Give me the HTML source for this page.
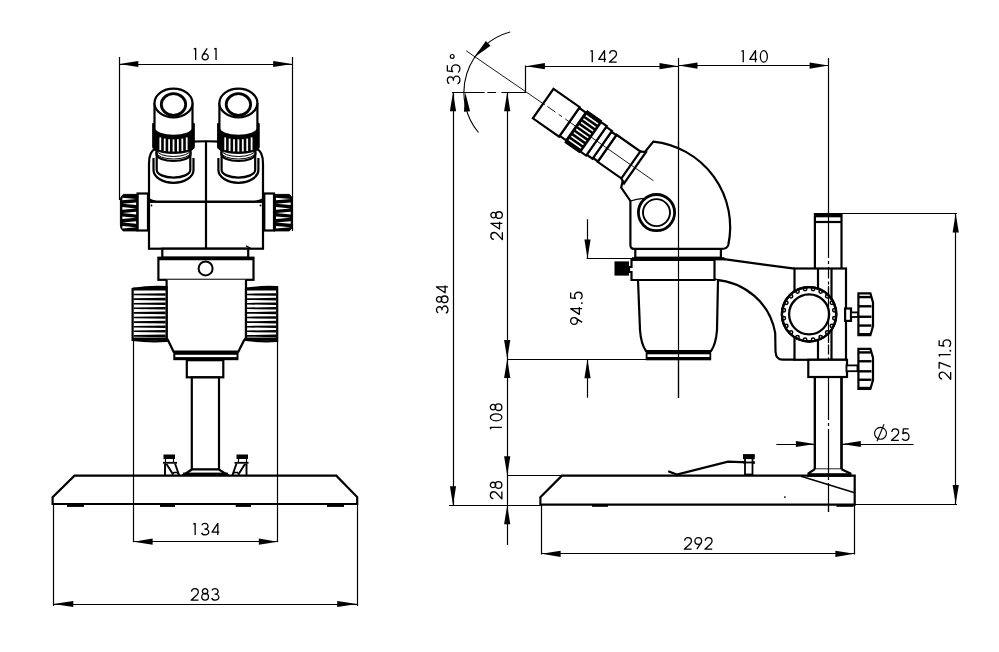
<!DOCTYPE html>
<html><head><meta charset="utf-8"><style>
html,body{margin:0;padding:0;background:#fff;}
svg{display:block;}
text{font-family:"Liberation Sans",sans-serif;fill:#111;stroke:none;}
</style></head><body>
<svg width="999" height="652" viewBox="0 0 999 652" stroke="#000" stroke-linecap="butt" stroke-linejoin="miter">
<rect x="0" y="0" width="999" height="652" fill="#fff" stroke="none"/>
<line x1="119.3" y1="64.5" x2="292.2" y2="64.5" stroke-width="1.2" />
<path d="M119.3,64 L138.3,60.9 L138.3,67.1 Z" fill="#000" stroke="none"/>
<path d="M292.2,64 L273.2,67.1 L273.2,60.9 Z" fill="#000" stroke="none"/>
<g transform="translate(204.90,60.60) scale(1.0) translate(-11.80,0)" fill="none" stroke="#000" stroke-linejoin="round" stroke-width="1.30"><path transform="translate(0.00,0)" d="M0.65,-11.55 L2.55,-12.15 V-0.65"/><path transform="translate(8.40,0)" d="M5.7,-12.15 L1.0,-5.2 M0.65,-3.7 A3.05,3.05 0 1 0 6.75,-3.7 A3.05,3.05 0 1 0 0.65,-3.7"/><path transform="translate(20.40,0)" d="M0.65,-11.55 L2.55,-12.15 V-0.65"/></g>
<path d="M149,201.8 V164 Q149,151 155.5,149 L190,141.7 Q206,140.8 222,141.7 L256.5,149 Q263,151 263,164 V201.8" stroke-width="2.2" fill="none" />
<rect x="149" y="201.8" width="114" height="46.9" rx="0" stroke-width="2.2" fill="#fff" />
<rect x="150.2" y="198.5" width="111.6" height="2.5" rx="0" stroke-width="0" fill="#fff" stroke="none"/>
<path d="M149,199 Q152,201.5 160,201.6 H252 Q260,201.5 263,199" stroke-width="2.2" fill="none" />
<line x1="206" y1="141.7" x2="206" y2="248.7" stroke-width="2.2" />
<line x1="246" y1="245.9" x2="250.3" y2="248" stroke-width="1.2" />
<circle cx="151.5" cy="205.5" r="0.9" fill="#000" stroke="none"/>
<circle cx="260.5" cy="205.5" r="0.9" fill="#000" stroke="none"/>
<path d="M153.5,158 V170 A20,12.8 0 0 0 193.5,170 V158" stroke-width="2.2" fill="none" />
<path d="M156.7,152 V170 A16.8,7.6 0 0 0 190.3,170 V152" stroke-width="2.2" fill="#fff" />
<path d="M156.5,148 V154 A17,7 0 0 0 190.5,154 V148" stroke-width="2.2" fill="#fff" />
<path d="M156.5,150 A17,6.5 0 0 0 190.5,150" stroke-width="1.0" fill="none" />
<path d="M156.5,152.5 A17,6.5 0 0 0 190.5,152.5" stroke-width="1.0" fill="none" />
<path d="M152.7,123.5 V147 A20.8,6.5 0 0 0 194.3,147 V123.5 Z" stroke-width="1" fill="#000" />
<rect x="159.4" y="137.43" width="1.8" height="12.69" fill="#fff" stroke="none"/>
<rect x="163.8" y="138.6" width="1.8" height="12.39" fill="#fff" stroke="none"/>
<rect x="168.2" y="139.21" width="1.8" height="12.24" fill="#fff" stroke="none"/>
<rect x="172.6" y="139.4" width="1.8" height="12.2" fill="#fff" stroke="none"/>
<rect x="177" y="139.21" width="1.8" height="12.24" fill="#fff" stroke="none"/>
<rect x="181.4" y="138.6" width="1.8" height="12.39" fill="#fff" stroke="none"/>
<rect x="185.8" y="137.43" width="1.8" height="12.69" fill="#fff" stroke="none"/>
<path d="M154.5,103 V128.8 A19,7 0 0 0 192.5,128.8 V103" stroke-width="2.2" fill="#fff" />
<ellipse cx="173.5" cy="103" rx="19" ry="14.4" stroke-width="2.2" fill="#fff"/>
<ellipse cx="173.5" cy="104.5" rx="12.2" ry="10.8" stroke-width="2.8" fill="#fff"/>
<path d="M218.4,158 V170 A20,12.8 0 0 0 258.4,170 V158" stroke-width="2.2" fill="none" />
<path d="M221.6,152 V170 A16.8,7.6 0 0 0 255.2,170 V152" stroke-width="2.2" fill="#fff" />
<path d="M221.4,148 V154 A17,7 0 0 0 255.4,154 V148" stroke-width="2.2" fill="#fff" />
<path d="M221.4,150 A17,6.5 0 0 0 255.4,150" stroke-width="1.0" fill="none" />
<path d="M221.4,152.5 A17,6.5 0 0 0 255.4,152.5" stroke-width="1.0" fill="none" />
<path d="M217.6,123.5 V147 A20.8,6.5 0 0 0 259.2,147 V123.5 Z" stroke-width="1" fill="#000" />
<rect x="224.3" y="137.43" width="1.8" height="12.69" fill="#fff" stroke="none"/>
<rect x="228.7" y="138.6" width="1.8" height="12.39" fill="#fff" stroke="none"/>
<rect x="233.1" y="139.21" width="1.8" height="12.24" fill="#fff" stroke="none"/>
<rect x="237.5" y="139.4" width="1.8" height="12.2" fill="#fff" stroke="none"/>
<rect x="241.9" y="139.21" width="1.8" height="12.24" fill="#fff" stroke="none"/>
<rect x="246.3" y="138.6" width="1.8" height="12.39" fill="#fff" stroke="none"/>
<rect x="250.7" y="137.43" width="1.8" height="12.69" fill="#fff" stroke="none"/>
<path d="M219.4,103 V128.8 A19,7 0 0 0 257.4,128.8 V103" stroke-width="2.2" fill="#fff" />
<ellipse cx="238.4" cy="103" rx="19" ry="14.4" stroke-width="2.2" fill="#fff"/>
<ellipse cx="238.4" cy="104.5" rx="12.2" ry="10.8" stroke-width="2.8" fill="#fff"/>
<rect x="137.6" y="193.5" width="10.4" height="37" rx="0" stroke-width="2.2" fill="#fff" />
<path d="M137.6,194.4 H123.4 Q120.4,196 120.4,200 V225 Q120.4,229.5 123.4,230.9 H137.6 Z" stroke-width="1" fill="#000" />
<path d="M122.4,197.7 L136.1,199 L122.4,200.3 Z" fill="#fff" stroke="none"/>
<path d="M136.1,202.4 L122.4,203.7 L136.1,205 Z" fill="#fff" stroke="none"/>
<path d="M122.4,207.1 L136.1,208.4 L122.4,209.7 Z" fill="#fff" stroke="none"/>
<path d="M136.1,211.8 L122.4,213.1 L136.1,214.4 Z" fill="#fff" stroke="none"/>
<path d="M122.4,216.5 L136.1,217.8 L122.4,219.1 Z" fill="#fff" stroke="none"/>
<path d="M136.1,221.2 L122.4,222.5 L136.1,223.8 Z" fill="#fff" stroke="none"/>
<path d="M122.4,225.9 L136.1,227.2 L122.4,228.5 Z" fill="#fff" stroke="none"/>
<rect x="264.3" y="193.5" width="9.7" height="37" rx="0" stroke-width="2.2" fill="#fff" />
<path d="M274,194.4 H289.2 Q292.2,196 292.2,200 V225 Q292.2,229.5 289.2,230.9 H274 Z" stroke-width="1" fill="#000" />
<path d="M276,197.7 L290.7,199 L276,200.3 Z" fill="#fff" stroke="none"/>
<path d="M290.7,202.4 L276,203.7 L290.7,205 Z" fill="#fff" stroke="none"/>
<path d="M276,207.1 L290.7,208.4 L276,209.7 Z" fill="#fff" stroke="none"/>
<path d="M290.7,211.8 L276,213.1 L290.7,214.4 Z" fill="#fff" stroke="none"/>
<path d="M276,216.5 L290.7,217.8 L276,219.1 Z" fill="#fff" stroke="none"/>
<path d="M290.7,221.2 L276,222.5 L290.7,223.8 Z" fill="#fff" stroke="none"/>
<path d="M276,225.9 L290.7,227.2 L276,228.5 Z" fill="#fff" stroke="none"/>
<line x1="119.5" y1="57" x2="119.5" y2="200" stroke-width="1.2" />
<line x1="292.5" y1="57" x2="292.5" y2="231" stroke-width="1.2" />
<rect x="162.3" y="248.7" width="85.9" height="9" rx="0" stroke-width="2.2" fill="#fff" />
<rect x="158.4" y="257.7" width="95.1" height="22.1" rx="0" stroke-width="2.2" fill="#fff" />
<line x1="158.4" y1="258.8" x2="253.5" y2="258.8" stroke-width="3" />
<circle cx="205.6" cy="268.4" r="7" stroke-width="2" fill="#fff"/>
<path d="M166.6,279.8 V338 L168.1,340.4 L173.5,351.6 H238.4 L244,340.4 L246,338 V279.8" stroke-width="2.2" fill="#fff" />
<rect x="173.3" y="351.2" width="65.2" height="9" rx="0" stroke-width="0" fill="#000" stroke="none"/>
<rect x="175.3" y="354.8" width="61.2" height="2.3" rx="0" stroke-width="0" fill="#fff" stroke="none"/>
<path d="M132.6,289 Q149.6,286.2 166.6,287.2 V340.9 Q149.6,342 132.6,340 Z" stroke-width="2.2" fill="#fff" />
<rect x="132.6" y="287.5" width="34" height="3" rx="0" stroke-width="0" fill="#000" stroke="none"/>
<rect x="132.6" y="337.5" width="34" height="3" rx="0" stroke-width="0" fill="#000" stroke="none"/>
<path d="M133.6,293.7 L165.6,293.2 L165.6,295.8 L133.6,295.3 Z" fill="#000" stroke="none"/>
<path d="M133.6,298.3 L165.6,297.8 L165.6,300.4 L133.6,299.9 Z" fill="#000" stroke="none"/>
<path d="M133.6,302.9 L165.6,302.4 L165.6,305 L133.6,304.5 Z" fill="#000" stroke="none"/>
<path d="M133.6,307.5 L165.6,307 L165.6,309.6 L133.6,309.1 Z" fill="#000" stroke="none"/>
<path d="M133.6,312.1 L165.6,311.6 L165.6,314.2 L133.6,313.7 Z" fill="#000" stroke="none"/>
<path d="M133.6,316.7 L165.6,316.2 L165.6,318.8 L133.6,318.3 Z" fill="#000" stroke="none"/>
<path d="M133.6,321.3 L165.6,320.8 L165.6,323.4 L133.6,322.9 Z" fill="#000" stroke="none"/>
<path d="M133.6,325.9 L165.6,325.4 L165.6,328 L133.6,327.5 Z" fill="#000" stroke="none"/>
<path d="M133.6,330.5 L165.6,330 L165.6,332.6 L133.6,332.1 Z" fill="#000" stroke="none"/>
<path d="M133.6,335.1 L165.6,334.6 L165.6,337.2 L133.6,336.7 Z" fill="#000" stroke="none"/>
<path d="M246,289 Q261.6,286.2 277.2,287.2 V340.9 Q261.6,342 246,340 Z" stroke-width="2.2" fill="#fff" />
<rect x="246" y="287.5" width="31.2" height="3" rx="0" stroke-width="0" fill="#000" stroke="none"/>
<rect x="246" y="337.5" width="31.2" height="3" rx="0" stroke-width="0" fill="#000" stroke="none"/>
<path d="M247,293.7 L276.2,293.2 L276.2,295.8 L247,295.3 Z" fill="#000" stroke="none"/>
<path d="M247,298.3 L276.2,297.8 L276.2,300.4 L247,299.9 Z" fill="#000" stroke="none"/>
<path d="M247,302.9 L276.2,302.4 L276.2,305 L247,304.5 Z" fill="#000" stroke="none"/>
<path d="M247,307.5 L276.2,307 L276.2,309.6 L247,309.1 Z" fill="#000" stroke="none"/>
<path d="M247,312.1 L276.2,311.6 L276.2,314.2 L247,313.7 Z" fill="#000" stroke="none"/>
<path d="M247,316.7 L276.2,316.2 L276.2,318.8 L247,318.3 Z" fill="#000" stroke="none"/>
<path d="M247,321.3 L276.2,320.8 L276.2,323.4 L247,322.9 Z" fill="#000" stroke="none"/>
<path d="M247,325.9 L276.2,325.4 L276.2,328 L247,327.5 Z" fill="#000" stroke="none"/>
<path d="M247,330.5 L276.2,330 L276.2,332.6 L247,332.1 Z" fill="#000" stroke="none"/>
<path d="M247,335.1 L276.2,334.6 L276.2,337.2 L247,336.7 Z" fill="#000" stroke="none"/>
<rect x="186.8" y="360.2" width="36.5" height="17.1" rx="0" stroke-width="2.2" fill="#fff" />
<rect x="191.8" y="377.4" width="27.2" height="92.1" rx="0" stroke-width="2.2" fill="#fff" />
<path d="M191.8,469.5 L183.5,475 H227.5 L219,469.5 Z" stroke-width="2.2" fill="#fff" />
<rect x="183" y="472.6" width="45" height="3.2" rx="0" stroke-width="0" fill="#000" stroke="none"/>
<rect x="163.5" y="454.5" width="11.5" height="4.5" rx="0" stroke-width="0" fill="#000" stroke="none"/>
<line x1="165.5" y1="459" x2="165.5" y2="462" stroke-width="1.2" />
<line x1="173.5" y1="459" x2="173.5" y2="462" stroke-width="1.2" />
<line x1="163" y1="462.8" x2="177" y2="462.8" stroke-width="1.8" />
<path d="M165,463.5 V475 M175,463.5 L179,475 M166.5,464 L172.5,473.5" stroke-width="1.9" fill="none" />
<path d="M172,475 L174,472.5 H177.5 L179,475" stroke-width="1.6" fill="none" />
<rect x="236.5" y="454.5" width="11.5" height="4.5" rx="0" stroke-width="0" fill="#000" stroke="none"/>
<line x1="246.5" y1="459" x2="246.5" y2="462" stroke-width="1.2" />
<line x1="238.5" y1="459" x2="238.5" y2="462" stroke-width="1.2" />
<line x1="248.5" y1="462.8" x2="234.5" y2="462.8" stroke-width="1.8" />
<path d="M246.5,463.5 V475 M236.5,463.5 L232.5,475 M245,464 L239,473.5" stroke-width="1.9" fill="none" />
<path d="M239.5,475 L237.5,472.5 H234 L232.5,475" stroke-width="1.6" fill="none" />
<path d="M74.5,475.7 H336.3 L357.2,497.1 V504 H52.6 V497.1 Z" stroke-width="2.2" fill="#fff" />
<rect x="67" y="504.3" width="17" height="2.6" rx="0" stroke-width="0" fill="#000" stroke="none"/>
<rect x="160" y="504.3" width="15" height="2.6" rx="0" stroke-width="0" fill="#000" stroke="none"/>
<rect x="235.7" y="504.3" width="15.3" height="2.6" rx="0" stroke-width="0" fill="#000" stroke="none"/>
<rect x="327" y="504.3" width="17" height="2.6" rx="0" stroke-width="0" fill="#000" stroke="none"/>
<line x1="133.5" y1="341" x2="133.5" y2="542.2" stroke-width="1.2" />
<line x1="277.5" y1="341" x2="277.5" y2="542.2" stroke-width="1.2" />
<line x1="133.6" y1="541.5" x2="277.8" y2="541.5" stroke-width="1.2" />
<path d="M133.6,541.7 L152.6,538.6 L152.6,544.8 Z" fill="#000" stroke="none"/>
<path d="M277.8,541.7 L258.8,544.8 L258.8,538.6 Z" fill="#000" stroke="none"/>
<g transform="translate(206.30,535.60) scale(1.0) translate(-13.70,0)" fill="none" stroke="#000" stroke-linejoin="round" stroke-width="1.30"><path transform="translate(0.00,0)" d="M0.65,-11.55 L2.55,-12.15 V-0.65"/><path transform="translate(8.40,0)" d="M0.85,-10.4 C1.4,-11.5 2.6,-12.15 3.95,-12.15 C5.7,-12.15 7.0,-10.9 7.0,-9.3 C7.0,-7.7 5.7,-6.6 4.0,-6.6 C6.2,-6.6 7.75,-5.1 7.75,-3.6 C7.75,-1.9 6.2,-0.65 4.1,-0.65 C2.4,-0.65 1.05,-1.5 0.65,-2.8"/><path transform="translate(18.80,0)" d="M6.4,-0.65 V-12.15 L0.65,-3.5 H7.95"/></g>
<line x1="53.5" y1="504" x2="53.5" y2="606" stroke-width="1.2" />
<line x1="357.5" y1="504" x2="357.5" y2="606" stroke-width="1.2" />
<line x1="53.3" y1="604.5" x2="357.2" y2="604.5" stroke-width="1.2" />
<path d="M53.3,604 L73.3,600.9 L73.3,607.1 Z" fill="#000" stroke="none"/>
<path d="M357.2,604 L337.2,607.1 L337.2,600.9 Z" fill="#000" stroke="none"/>
<g transform="translate(205.00,600.80) scale(1.0) translate(-14.50,0)" fill="none" stroke="#000" stroke-linejoin="round" stroke-width="1.30"><path transform="translate(0.00,0)" d="M0.9,-9.2 C1.2,-11.1 2.7,-12.15 4.35,-12.15 C6.3,-12.15 7.8,-10.7 7.8,-8.8 C7.8,-7.6 7.2,-6.6 6.3,-5.8 L0.65,-0.65 H7.95"/><path transform="translate(10.60,0)" d="M1.3,-9.45 A2.7,2.7 0 1 0 6.7,-9.45 A2.7,2.7 0 1 0 1.3,-9.45 M0.65,-4.0 A3.35,3.35 0 1 0 7.35,-4.0 A3.35,3.35 0 1 0 0.65,-4.0"/><path transform="translate(20.60,0)" d="M0.85,-10.4 C1.4,-11.5 2.6,-12.15 3.95,-12.15 C5.7,-12.15 7.0,-10.9 7.0,-9.3 C7.0,-7.7 5.7,-6.6 4.0,-6.6 C6.2,-6.6 7.75,-5.1 7.75,-3.6 C7.75,-1.9 6.2,-0.65 4.1,-0.65 C2.4,-0.65 1.05,-1.5 0.65,-2.8"/></g>
<line x1="525.5" y1="65.5" x2="525.5" y2="92.5" stroke-width="1.2" />
<line x1="525.9" y1="66.5" x2="678.5" y2="66.5" stroke-width="1.2" />
<path d="M525.9,66.2 L544.9,63.1 L544.9,69.3 Z" fill="#000" stroke="none"/>
<path d="M678.5,66.2 L659.5,69.3 L659.5,63.1 Z" fill="#000" stroke="none"/>
<g transform="translate(603.50,62.80) scale(1.0) translate(-13.80,0)" fill="none" stroke="#000" stroke-linejoin="round" stroke-width="1.30"><path transform="translate(0.00,0)" d="M0.65,-11.55 L2.55,-12.15 V-0.65"/><path transform="translate(8.40,0)" d="M6.4,-0.65 V-12.15 L0.65,-3.5 H7.95"/><path transform="translate(19.00,0)" d="M0.9,-9.2 C1.2,-11.1 2.7,-12.15 4.35,-12.15 C6.3,-12.15 7.8,-10.7 7.8,-8.8 C7.8,-7.6 7.2,-6.6 6.3,-5.8 L0.65,-0.65 H7.95"/></g>
<line x1="678.5" y1="65.5" x2="828.6" y2="65.5" stroke-width="1.2" />
<path d="M678.5,65.6 L697.5,62.5 L697.5,68.7 Z" fill="#000" stroke="none"/>
<path d="M828.6,65.6 L809.6,68.7 L809.6,62.5 Z" fill="#000" stroke="none"/>
<g transform="translate(754.35,62.80) scale(1.0) translate(-13.65,0)" fill="none" stroke="#000" stroke-linejoin="round" stroke-width="1.30"><path transform="translate(0.00,0)" d="M0.65,-11.55 L2.55,-12.15 V-0.65"/><path transform="translate(8.40,0)" d="M6.4,-0.65 V-12.15 L0.65,-3.5 H7.95"/><path transform="translate(19.00,0)" d="M0.65,-6.4 A3.5,5.75 0 1 0 7.65,-6.4 A3.5,5.75 0 1 0 0.65,-6.4"/></g>
<line x1="678.5" y1="58" x2="678.5" y2="398" stroke-width="1.2" />
<line x1="828.5" y1="58" x2="828.5" y2="512" stroke-width="1.2" />
<line x1="452" y1="92.5" x2="526" y2="92.5" stroke-width="1.2" stroke-dasharray="32.6,2.7,8.8,5.3,25"/>
<line x1="466.2" y1="50.8" x2="654" y2="179.8" stroke-width="0.9" />
<path d="M510.2,32 A62.5,62.5 0 0 0 478.5,132.5" stroke-width="1.1" fill="none" />
<path d="M474.1,57.6 L485.85,41.09 L490.54,45.74 Z" fill="#000" stroke="none"/>
<path d="M465.3,92.5 L470.09,111.15 L463.91,111.7 Z" fill="#000" stroke="none"/>
<g transform="translate(460.60,74.35) rotate(-90) scale(1.09) translate(-9.30,0)" fill="none" stroke="#000" stroke-linejoin="round" stroke-width="1.19"><path transform="translate(0.00,0)" d="M0.85,-10.4 C1.4,-11.5 2.6,-12.15 3.95,-12.15 C5.7,-12.15 7.0,-10.9 7.0,-9.3 C7.0,-7.7 5.7,-6.6 4.0,-6.6 C6.2,-6.6 7.75,-5.1 7.75,-3.6 C7.75,-1.9 6.2,-0.65 4.1,-0.65 C2.4,-0.65 1.05,-1.5 0.65,-2.8"/><path transform="translate(10.40,0)" d="M7.2,-12.15 H2.0 L1.4,-7.3 C2.1,-7.9 3.0,-8.25 4.0,-8.25 C6.0,-8.25 7.55,-6.6 7.55,-4.45 C7.55,-2.2 5.9,-0.65 3.9,-0.65 C2.5,-0.65 1.3,-1.3 0.65,-2.4"/></g>
<circle cx="452.2" cy="56.4" r="1.9" stroke-width="1.2" fill="none"/>
<line x1="453.5" y1="92.2" x2="453.5" y2="505.3" stroke-width="1.2" />
<path d="M453,92.2 L456.1,111.2 L449.9,111.2 Z" fill="#000" stroke="none"/>
<path d="M453,505.3 L449.9,486.3 L456.1,486.3 Z" fill="#000" stroke="none"/>
<g transform="translate(448.60,299.25) rotate(-90) scale(1.0) translate(-14.50,0)" fill="none" stroke="#000" stroke-linejoin="round" stroke-width="1.30"><path transform="translate(0.00,0)" d="M0.85,-10.4 C1.4,-11.5 2.6,-12.15 3.95,-12.15 C5.7,-12.15 7.0,-10.9 7.0,-9.3 C7.0,-7.7 5.7,-6.6 4.0,-6.6 C6.2,-6.6 7.75,-5.1 7.75,-3.6 C7.75,-1.9 6.2,-0.65 4.1,-0.65 C2.4,-0.65 1.05,-1.5 0.65,-2.8"/><path transform="translate(10.40,0)" d="M1.3,-9.45 A2.7,2.7 0 1 0 6.7,-9.45 A2.7,2.7 0 1 0 1.3,-9.45 M0.65,-4.0 A3.35,3.35 0 1 0 7.35,-4.0 A3.35,3.35 0 1 0 0.65,-4.0"/><path transform="translate(20.40,0)" d="M6.4,-0.65 V-12.15 L0.65,-3.5 H7.95"/></g>
<line x1="449" y1="505.5" x2="541" y2="505.5" stroke-width="1.2" />
<line x1="507.5" y1="92.2" x2="507.5" y2="359" stroke-width="1.2" />
<path d="M507.2,92.2 L510.3,111.2 L504.1,111.2 Z" fill="#000" stroke="none"/>
<path d="M507.2,359 L504.1,340 L510.3,340 Z" fill="#000" stroke="none"/>
<g transform="translate(503.00,225.70) rotate(-90) scale(1.0) translate(-14.60,0)" fill="none" stroke="#000" stroke-linejoin="round" stroke-width="1.30"><path transform="translate(0.00,0)" d="M0.9,-9.2 C1.2,-11.1 2.7,-12.15 4.35,-12.15 C6.3,-12.15 7.8,-10.7 7.8,-8.8 C7.8,-7.6 7.2,-6.6 6.3,-5.8 L0.65,-0.65 H7.95"/><path transform="translate(10.60,0)" d="M6.4,-0.65 V-12.15 L0.65,-3.5 H7.95"/><path transform="translate(21.20,0)" d="M1.3,-9.45 A2.7,2.7 0 1 0 6.7,-9.45 A2.7,2.7 0 1 0 1.3,-9.45 M0.65,-4.0 A3.35,3.35 0 1 0 7.35,-4.0 A3.35,3.35 0 1 0 0.65,-4.0"/></g>
<line x1="507" y1="359.5" x2="646" y2="359.5" stroke-width="1.2" />
<line x1="507.5" y1="359" x2="507.5" y2="505.3" stroke-width="1.2" />
<path d="M507.2,359 L510.3,378 L504.1,378 Z" fill="#000" stroke="none"/>
<path d="M507.2,475.3 L504.1,456.3 L510.3,456.3 Z" fill="#000" stroke="none"/>
<g transform="translate(502.50,416.50) rotate(-90) scale(1.0) translate(-13.35,0)" fill="none" stroke="#000" stroke-linejoin="round" stroke-width="1.30"><path transform="translate(0.00,0)" d="M0.65,-11.55 L2.55,-12.15 V-0.65"/><path transform="translate(8.40,0)" d="M0.65,-6.4 A3.5,5.75 0 1 0 7.65,-6.4 A3.5,5.75 0 1 0 0.65,-6.4"/><path transform="translate(18.70,0)" d="M1.3,-9.45 A2.7,2.7 0 1 0 6.7,-9.45 A2.7,2.7 0 1 0 1.3,-9.45 M0.65,-4.0 A3.35,3.35 0 1 0 7.35,-4.0 A3.35,3.35 0 1 0 0.65,-4.0"/></g>
<line x1="507" y1="475.5" x2="562" y2="475.5" stroke-width="1.2" />
<line x1="507.5" y1="505.3" x2="507.5" y2="545" stroke-width="1.2" />
<path d="M507.2,505.3 L510.3,524.3 L504.1,524.3 Z" fill="#000" stroke="none"/>
<g transform="translate(502.50,490.25) rotate(-90) scale(1.0) translate(-9.30,0)" fill="none" stroke="#000" stroke-linejoin="round" stroke-width="1.30"><path transform="translate(0.00,0)" d="M0.9,-9.2 C1.2,-11.1 2.7,-12.15 4.35,-12.15 C6.3,-12.15 7.8,-10.7 7.8,-8.8 C7.8,-7.6 7.2,-6.6 6.3,-5.8 L0.65,-0.65 H7.95"/><path transform="translate(10.60,0)" d="M1.3,-9.45 A2.7,2.7 0 1 0 6.7,-9.45 A2.7,2.7 0 1 0 1.3,-9.45 M0.65,-4.0 A3.35,3.35 0 1 0 7.35,-4.0 A3.35,3.35 0 1 0 0.65,-4.0"/></g>
<line x1="587.5" y1="219.2" x2="587.5" y2="258.6" stroke-width="1.2" />
<path d="M587.5,258.6 L584.4,239.6 L590.6,239.6 Z" fill="#000" stroke="none"/>
<line x1="587.5" y1="359.3" x2="587.5" y2="397.7" stroke-width="1.2" />
<path d="M587.5,359.3 L590.6,378.3 L584.4,378.3 Z" fill="#000" stroke="none"/>
<g transform="translate(582.80,308.30) rotate(-90) scale(1.0) translate(-16.70,0)" fill="none" stroke="#000" stroke-linejoin="round" stroke-width="1.30"><path transform="translate(0.00,0)" d="M0.65,-8.8 A3.35,3.35 0 1 0 7.35,-8.8 A3.35,3.35 0 1 0 0.65,-8.8 M7.1,-7.4 L2.6,-0.65"/><path transform="translate(10.00,0)" d="M6.4,-0.65 V-12.15 L0.65,-3.5 H7.95"/><circle cx="21.90" cy="-0.95" r="0.95" fill="#000" stroke="none"/><path transform="translate(25.20,0)" d="M7.2,-12.15 H2.0 L1.4,-7.3 C2.1,-7.9 3.0,-8.25 4.0,-8.25 C6.0,-8.25 7.55,-6.6 7.55,-4.45 C7.55,-2.2 5.9,-0.65 3.9,-0.65 C2.5,-0.65 1.3,-1.3 0.65,-2.4"/></g>
<line x1="586.6" y1="258.5" x2="632.6" y2="258.5" stroke-width="1.2" />
<line x1="841.5" y1="213.5" x2="957" y2="213.5" stroke-width="1.2" />
<line x1="855" y1="504.5" x2="957" y2="504.5" stroke-width="1.2" />
<line x1="955.5" y1="213.6" x2="955.5" y2="504" stroke-width="1.2" />
<path d="M955.7,213.6 L958.8,232.6 L952.6,232.6 Z" fill="#000" stroke="none"/>
<path d="M955.7,504 L952.6,485 L958.8,485 Z" fill="#000" stroke="none"/>
<g transform="translate(951.30,359.55) rotate(-90) scale(1.0) translate(-20.35,0)" fill="none" stroke="#000" stroke-linejoin="round" stroke-width="1.30"><path transform="translate(0.00,0)" d="M0.9,-9.2 C1.2,-11.1 2.7,-12.15 4.35,-12.15 C6.3,-12.15 7.8,-10.7 7.8,-8.8 C7.8,-7.6 7.2,-6.6 6.3,-5.8 L0.65,-0.65 H7.95"/><path transform="translate(10.60,0)" d="M0.65,-12.15 H6.85 L2.4,-0.65"/><path transform="translate(22.70,0)" d="M0.65,-11.55 L2.55,-12.15 V-0.65"/><circle cx="29.20" cy="-0.95" r="0.95" fill="#000" stroke="none"/><path transform="translate(32.50,0)" d="M7.2,-12.15 H2.0 L1.4,-7.3 C2.1,-7.9 3.0,-8.25 4.0,-8.25 C6.0,-8.25 7.55,-6.6 7.55,-4.45 C7.55,-2.2 5.9,-0.65 3.9,-0.65 C2.5,-0.65 1.3,-1.3 0.65,-2.4"/></g>
<line x1="541.5" y1="505" x2="541.5" y2="554.5" stroke-width="1.2" />
<line x1="854.5" y1="505" x2="854.5" y2="554.5" stroke-width="1.2" />
<line x1="541.6" y1="553.5" x2="854.4" y2="553.5" stroke-width="1.2" />
<path d="M541.6,553.8 L560.6,550.7 L560.6,556.9 Z" fill="#000" stroke="none"/>
<path d="M854.4,553.8 L835.4,556.9 L835.4,550.7 Z" fill="#000" stroke="none"/>
<g transform="translate(698.25,549.80) scale(1.0) translate(-14.60,0)" fill="none" stroke="#000" stroke-linejoin="round" stroke-width="1.30"><path transform="translate(0.00,0)" d="M0.9,-9.2 C1.2,-11.1 2.7,-12.15 4.35,-12.15 C6.3,-12.15 7.8,-10.7 7.8,-8.8 C7.8,-7.6 7.2,-6.6 6.3,-5.8 L0.65,-0.65 H7.95"/><path transform="translate(10.60,0)" d="M0.65,-8.8 A3.35,3.35 0 1 0 7.35,-8.8 A3.35,3.35 0 1 0 0.65,-8.8 M7.1,-7.4 L2.6,-0.65"/><path transform="translate(20.60,0)" d="M0.9,-9.2 C1.2,-11.1 2.7,-12.15 4.35,-12.15 C6.3,-12.15 7.8,-10.7 7.8,-8.8 C7.8,-7.6 7.2,-6.6 6.3,-5.8 L0.65,-0.65 H7.95"/></g>
<line x1="776.3" y1="444.5" x2="913.6" y2="444.5" stroke-width="1.2" />
<path d="M814.9,444 L795.9,447.1 L795.9,440.9 Z" fill="#000" stroke="none"/>
<path d="M841.8,444 L860.8,440.9 L860.8,447.1 Z" fill="#000" stroke="none"/>
<g transform="translate(900.25,441.00) scale(1.0) translate(-9.40,0)" fill="none" stroke="#000" stroke-linejoin="round" stroke-width="1.30"><path transform="translate(0.00,0)" d="M0.9,-9.2 C1.2,-11.1 2.7,-12.15 4.35,-12.15 C6.3,-12.15 7.8,-10.7 7.8,-8.8 C7.8,-7.6 7.2,-6.6 6.3,-5.8 L0.65,-0.65 H7.95"/><path transform="translate(10.60,0)" d="M7.2,-12.15 H2.0 L1.4,-7.3 C2.1,-7.9 3.0,-8.25 4.0,-8.25 C6.0,-8.25 7.55,-6.6 7.55,-4.45 C7.55,-2.2 5.9,-0.65 3.9,-0.65 C2.5,-0.65 1.3,-1.3 0.65,-2.4"/></g>
<circle cx="880.5" cy="433.3" r="5.95" stroke-width="1.1" fill="none"/>
<line x1="884" y1="424.3" x2="877" y2="441.3" stroke-width="1.1" />
<path d="M561.9,475.6 H854.7 V504.6 H540.4 V497.1 Z" stroke-width="2.2" fill="#fff" />
<line x1="801" y1="476.2" x2="854.7" y2="492.8" stroke-width="1.5" />
<rect x="592" y="504" width="16" height="2.8" rx="0" stroke-width="0" fill="#000" stroke="none"/>
<rect x="836.4" y="504" width="17.2" height="2.8" rx="0" stroke-width="0" fill="#000" stroke="none"/>
<circle cx="784.9" cy="497.1" r="0.9" fill="#000" stroke="none"/>
<path d="M668.2,471.3 L676.8,474.5 L728,461.6 L754.8,462.7" stroke-width="2.2" fill="none" />
<rect x="745" y="458" width="7.5" height="16.5" rx="0" stroke-width="1.8" fill="#fff" />
<rect x="743" y="454.1" width="11.8" height="5" rx="0" stroke-width="0" fill="#000" stroke="none"/>
<line x1="743" y1="462.5" x2="754.8" y2="462.5" stroke-width="1.8" />
<rect x="814.9" y="214.1" width="26.6" height="255.4" rx="0" stroke-width="2.2" fill="#fff" />
<rect x="814.9" y="214.1" width="26.6" height="3.2" rx="0" stroke-width="0" fill="#000" stroke="none"/>
<line x1="814.9" y1="222" x2="841.5" y2="222" stroke-width="2.2" />
<path d="M814.9,469.2 L808.5,473.4 V475.6 H850.4 V473.4 L841.5,469.2" stroke-width="2.2" fill="#fff" />
<rect x="808.5" y="473.2" width="41.9" height="2.6" rx="0" stroke-width="0" fill="#000" stroke="none"/>
<line x1="828.5" y1="213" x2="828.5" y2="512" stroke-width="1.2" stroke-dasharray="45,3,3,3"/>
<path d="M724,259.2 L794.5,268.6" stroke-width="2.2" fill="none" />
<path d="M714.7,279.6 C745,282 770,303 775.2,333 L775.5,351.5 Q776,359.7 782.5,359.7 H794.8" stroke-width="2.2" fill="none" />
<rect x="794.5" y="268.5" width="51.5" height="91.3" rx="0" stroke-width="2.2" fill="#fff" />
<line x1="818" y1="268.5" x2="818" y2="359.8" stroke-width="2.2" />
<line x1="831.5" y1="268.5" x2="831.5" y2="359.8" stroke-width="2.2" />
<line x1="828.5" y1="268.5" x2="828.5" y2="359.8" stroke-width="1.2" stroke-dasharray="10,3,3,3"/>
<rect x="808.3" y="359.8" width="38.7" height="17.2" rx="0" stroke-width="2.2" fill="#fff" />
<line x1="814.9" y1="377" x2="814.9" y2="469.2" stroke-width="2.2" />
<line x1="841.5" y1="377" x2="841.5" y2="469.2" stroke-width="2.2" />
<circle cx="809.1" cy="314.3" r="27.2" stroke-width="2.3" fill="#fff"/>
<circle cx="834.38" cy="318.3" r="1.7" stroke-width="1.5" fill="none"/>
<circle cx="831.91" cy="325.92" r="1.7" stroke-width="1.5" fill="none"/>
<circle cx="827.2" cy="332.4" r="1.7" stroke-width="1.5" fill="none"/>
<circle cx="820.72" cy="337.11" r="1.7" stroke-width="1.5" fill="none"/>
<circle cx="813.1" cy="339.58" r="1.7" stroke-width="1.5" fill="none"/>
<circle cx="805.1" cy="339.58" r="1.7" stroke-width="1.5" fill="none"/>
<circle cx="797.48" cy="337.11" r="1.7" stroke-width="1.5" fill="none"/>
<circle cx="791" cy="332.4" r="1.7" stroke-width="1.5" fill="none"/>
<circle cx="786.29" cy="325.92" r="1.7" stroke-width="1.5" fill="none"/>
<circle cx="783.82" cy="318.3" r="1.7" stroke-width="1.5" fill="none"/>
<circle cx="783.82" cy="310.3" r="1.7" stroke-width="1.5" fill="none"/>
<circle cx="786.29" cy="302.68" r="1.7" stroke-width="1.5" fill="none"/>
<circle cx="791" cy="296.2" r="1.7" stroke-width="1.5" fill="none"/>
<circle cx="797.48" cy="291.49" r="1.7" stroke-width="1.5" fill="none"/>
<circle cx="805.1" cy="289.02" r="1.7" stroke-width="1.5" fill="none"/>
<circle cx="813.1" cy="289.02" r="1.7" stroke-width="1.5" fill="none"/>
<circle cx="820.72" cy="291.49" r="1.7" stroke-width="1.5" fill="none"/>
<circle cx="827.2" cy="296.2" r="1.7" stroke-width="1.5" fill="none"/>
<circle cx="831.91" cy="302.68" r="1.7" stroke-width="1.5" fill="none"/>
<circle cx="834.38" cy="310.3" r="1.7" stroke-width="1.5" fill="none"/>
<circle cx="809.1" cy="314.3" r="27.2" stroke-width="2.3" fill="none"/>
<circle cx="809.1" cy="314.3" r="20" stroke-width="2.3" fill="#fff"/>
<line x1="828.5" y1="286" x2="828.5" y2="343" stroke-width="1.2" />
<rect x="845.1" y="308.5" width="5.9" height="12.4" rx="0" stroke-width="2.2" fill="#fff" />
<rect x="851" y="312.4" width="7.4" height="4.6" rx="0" stroke-width="1.8" fill="#fff" />
<path d="M858.4,293.3 H870.4 L873,302.52 V325.98 L870.4,335.2 H858.4 Z" stroke-width="2.2" fill="#fff" />
<line x1="858.4" y1="297.07" x2="871.5" y2="297.07" stroke-width="2.4" />
<line x1="858.4" y1="306.29" x2="871.5" y2="306.29" stroke-width="2.4" />
<line x1="858.4" y1="316.76" x2="871.5" y2="316.76" stroke-width="2.4" />
<line x1="858.4" y1="325.56" x2="871.5" y2="325.56" stroke-width="2.4" />
<rect x="858.4" y="333" width="12" height="2.2" rx="0" stroke-width="0" fill="#000" stroke="none"/>
<rect x="846.5" y="365.4" width="11" height="5.8" rx="0" stroke-width="1.8" fill="#fff" />
<path d="M858.4,348.8 H870.4 L873,357.64 V380.16 L870.4,389 H858.4 Z" stroke-width="2.2" fill="#fff" />
<line x1="858.4" y1="352.42" x2="871.5" y2="352.42" stroke-width="2.4" />
<line x1="858.4" y1="361.26" x2="871.5" y2="361.26" stroke-width="2.4" />
<line x1="858.4" y1="371.31" x2="871.5" y2="371.31" stroke-width="2.4" />
<line x1="858.4" y1="379.75" x2="871.5" y2="379.75" stroke-width="2.4" />
<rect x="858.4" y="386.8" width="12" height="2.2" rx="0" stroke-width="0" fill="#000" stroke="none"/>
<path d="M638,280 L640,330 Q641,344 646,351 H711 Q716,344 717,330 L718,280" stroke-width="2.2" fill="#fff" />
<rect x="645.7" y="351.2" width="65.5" height="9.1" rx="0" stroke-width="0" fill="#000" stroke="none"/>
<rect x="647.5" y="354.3" width="62" height="2.7" rx="0" stroke-width="0" fill="#fff" stroke="none"/>
<path d="M631.5,260 H714.5 V280 H631.5 V272 H629 V267 H631.5 Z" stroke-width="2.2" fill="#fff" />
<rect x="614.5" y="261.4" width="14.5" height="14.2" rx="0" stroke-width="0" fill="#000" stroke="none"/>
<rect x="632" y="257.2" width="92.5" height="3.2" rx="0" stroke-width="0" fill="#000" stroke="none"/>
<rect x="635.3" y="248.9" width="85.6" height="8.8" rx="0" stroke-width="2.2" fill="#fff" />
<path d="M630.4,245 V201 L621.2,187.5 L622.9,179.9 L644.9,152 L653.3,141.6 A86,86 0 0 1 728.3,245 Q727,248.9 722,248.9 H634 Q630.4,248.9 630.4,245 Z" stroke-width="2.2" fill="#fff" />
<circle cx="656.5" cy="212.6" r="18.1" stroke-width="2.8" fill="#fff"/>
<circle cx="656.5" cy="212.6" r="13.5" stroke-width="1.9" fill="#fff"/>
<path d="M630.5,201 Q636,199 643.6,198.3" stroke-width="1.2" fill="none" />
<line x1="678.5" y1="141" x2="678.5" y2="398" stroke-width="1.2" />
<path d="M616.56,134.77 L641.95,152.55 L623.03,179.58 L597.63,161.8 Z" stroke-width="2.2" fill="#fff" />
<path d="M640.32,151.4 L645.85,152.22 L624.05,183.35 L621.39,178.43 Z" stroke-width="2.2" fill="#fff" />
<path d="M611.36,131.74 L616.27,135.18 L597.92,161.39 L593,157.95 Z" stroke-width="2.2" fill="#fff" />
<path d="M606.2,126.9 L611.93,130.92 L592.43,158.77 L586.7,154.75 Z" stroke-width="2.2" fill="#fff" />
<path d="M601.04,122.07 L606.77,126.08 L586.12,155.57 L580.39,151.56 Z" stroke-width="2.2" fill="#fff" />
<path d="M587.15,110.51 L601.9,120.84 L579.53,152.79 L564.78,142.46 Z" stroke-width="1" fill="#000" />
<path d="M586.33,114.82 L598.37,123.26 L597.46,124.57 L585.42,116.13 Z" stroke-width="0" fill="#fff" />
<path d="M583.92,118.26 L595.97,126.7 L595.05,128.01 L583.01,119.57 Z" stroke-width="0" fill="#fff" />
<path d="M581.52,121.7 L593.56,130.14 L592.64,131.45 L580.6,123.02 Z" stroke-width="0" fill="#fff" />
<path d="M579.11,125.15 L591.15,133.58 L590.23,134.89 L578.19,126.46 Z" stroke-width="0" fill="#fff" />
<path d="M576.7,128.59 L588.74,137.02 L587.82,138.33 L575.78,129.9 Z" stroke-width="0" fill="#fff" />
<path d="M574.29,132.03 L586.33,140.46 L585.41,141.77 L573.37,133.34 Z" stroke-width="0" fill="#fff" />
<path d="M571.88,135.47 L583.92,143.9 L583,145.21 L570.96,136.78 Z" stroke-width="0" fill="#fff" />
<path d="M569.47,138.91 L581.51,147.34 L580.59,148.65 L568.55,140.22 Z" stroke-width="0" fill="#fff" />
<path d="M579.17,107.97 L585.72,112.56 L566.22,140.41 L559.66,135.83 Z" stroke-width="2.2" fill="#fff" />
<path d="M553.53,88.8 L579.74,107.15 L559.09,136.64 L532.88,118.29 Z" stroke-width="2.2" fill="#fff" />
<line x1="543.2" y1="103.55" x2="575.97" y2="126.49" stroke-width="0.9" stroke-dasharray="2,3,10,4,4,4,40"/>
<line x1="590.71" y1="136.81" x2="653.38" y2="180.69" stroke-width="0.9" />
</svg></body></html>
